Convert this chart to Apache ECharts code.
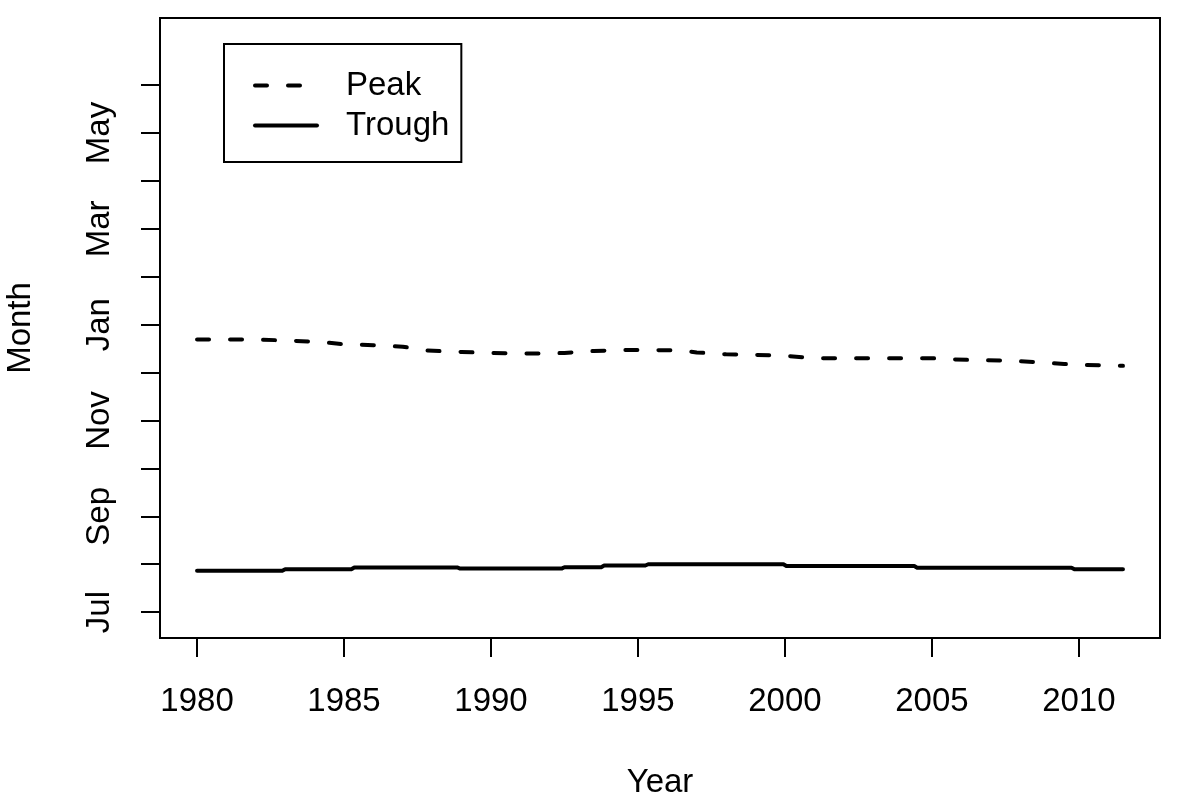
<!DOCTYPE html>
<html>
<head>
<meta charset="utf-8">
<script src="https://cdn.jsdelivr.net/npm/echarts@6/dist/echarts.min.js"></script>
<style>
html,body{margin:0;padding:0;background:#fff;}
#chart{width:1200px;height:800px;}
</style>
</head>
<body>
<div id="chart"></div>
<script>
// ---- data ----
const yearTicks = [1980, 1985, 1990, 1995, 2000, 2005, 2010];
const monthTickValues = [7, 8, 9, 10, 11, 12, 13, 14, 15, 16, 17, 18];
const monthLabelValues = [7, 9, 11, 13, 15, 17];
const monthLabels = ['Jul', 'Sep', 'Nov', 'Jan', 'Mar', 'May'];

const peakYears  = [1980.0, 1981, 1982, 1983, 1983.8, 1984.5, 1985, 1986, 1987, 1987.8, 1989, 1990, 1991, 1992, 1992.5, 1993.5, 1994.5, 1995.5, 1996.5, 1997, 1998, 1999, 2000, 2001, 2002, 2003, 2004, 2005, 2005.5, 2006.5, 2007.5, 2008.5, 2009.5, 2010, 2011.5];
const peakValues = [12.69, 12.69, 12.69, 12.67, 12.65, 12.62, 12.59, 12.57, 12.54, 12.46, 12.43, 12.41, 12.40, 12.40, 12.41, 12.45, 12.47, 12.47, 12.46, 12.42, 12.38, 12.37, 12.35, 12.30, 12.30, 12.30, 12.30, 12.30, 12.28, 12.26, 12.25, 12.22, 12.18, 12.16, 12.14];

const troughYears  = [1980.0, 1982.9, 1983.0, 1985.25, 1985.35, 1988.85, 1988.95, 1992.4, 1992.5, 1993.75, 1993.85, 1995.25, 1995.35, 1999.95, 2000.05, 2004.4, 2004.5, 2009.75, 2009.85, 2011.5];
const troughValues = [7.863, 7.863, 7.896, 7.896, 7.932, 7.932, 7.909, 7.909, 7.938, 7.938, 7.973, 7.973, 8.000, 8.000, 7.963, 7.963, 7.928, 7.928, 7.894, 7.894];

const zip = (xs, ys) => xs.map((x, i) => [x, ys[i]]);

const FONT = 'Liberation Sans';
const FS = 33;
const chart = echarts.init(document.getElementById('chart'), null, {renderer: 'canvas'});

chart.setOption({
  animation: false,
  backgroundColor: '#fff',
  textStyle: {fontFamily: FONT, color: '#000'},
  grid: {
    left: 160, right: 40, top: 18, bottom: 162,
    outerBoundsMode: 'none', containLabel: false,
    show: true, borderColor: '#000', borderWidth: 2, backgroundColor: 'transparent'
  },
  legend: {
    left: 224, top: 44,
    orient: 'vertical',
    backgroundColor: '#fff',
    borderColor: '#000', borderWidth: 2,
    padding: [24, 12, 19, 29],
    itemWidth: 62, itemHeight: 14, itemGap: 5,
    itemStyle: {opacity: 0, borderWidth: 0},
    lineStyle: {width: 4},
    textStyle: {fontFamily: FONT, fontSize: FS, color: '#000', lineHeight: 35, padding: [0, 0, 0, 24]},
    data: ['Peak', 'Trough']
  },
  xAxis: {
    type: 'value',
    min: 1978.74, max: 2012.76,
    name: 'Year', nameLocation: 'middle', nameGap: 128,
    nameTextStyle: {fontFamily: FONT, fontSize: FS, color: '#000'},
    axisLine: {show: false},
    axisTick: {show: true, inside: false, length: 19, lineStyle: {color: '#000', width: 2}, customValues: yearTicks},
    axisLabel: {show: true, margin: 47, fontFamily: FONT, fontSize: FS, color: '#000', customValues: yearTicks,
      formatter: v => String(Math.round(v))},
    splitLine: {show: false}
  },
  yAxis: {
    type: 'value',
    min: 6.46, max: 19.40,
    name: 'Month', nameLocation: 'middle', nameGap: 123,
    nameTextStyle: {fontFamily: FONT, fontSize: FS, color: '#000'},
    axisLine: {show: false},
    axisTick: {show: true, inside: false, length: 19, lineStyle: {color: '#000', width: 2}, customValues: monthTickValues},
    axisLabel: {show: true, rotate: 90, margin: 44, fontFamily: FONT, fontSize: FS, color: '#000',
      customValues: monthLabelValues,
      formatter: v => { const i = monthLabelValues.indexOf(Math.round(v)); return i >= 0 ? monthLabels[i] : ''; }},
    splitLine: {show: false}
  },
  series: [
    {
      name: 'Peak', type: 'line', symbol: 'none', showSymbol: false,
      data: zip(peakYears, peakValues),
      lineStyle: {color: '#000', width: 4, type: [12, 21], cap: 'round', join: 'round'},
      itemStyle: {color: '#000'}
    },
    {
      name: 'Trough', type: 'line', symbol: 'none', showSymbol: false,
      data: zip(troughYears, troughValues),
      lineStyle: {color: '#000', width: 4, type: 'solid', cap: 'round', join: 'round'},
      itemStyle: {color: '#000'}
    }
  ]
});
</script>
</body>
</html>
